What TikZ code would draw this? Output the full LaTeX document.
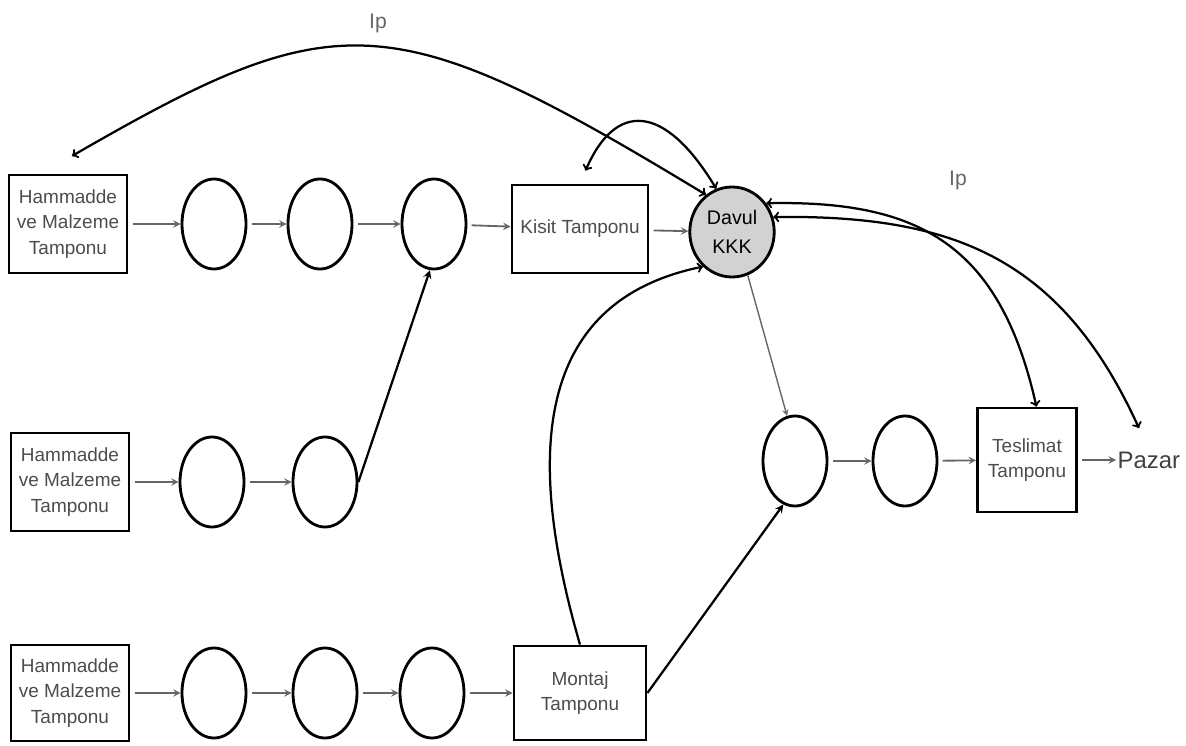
\documentclass[tikz,border=0pt]{standalone}
\usepackage{fontspec}
\setmainfont{Liberation Sans}
\usetikzlibrary{shapes.geometric}

\begin{document}
\begin{tikzpicture}[x=0.025cm, y=0.025cm, >=stealth,
    buffer/.style={draw, line width=2pt, align=center, inner sep=0pt, text=black!70,
        font=\fontsize{13.5}{18}\selectfont},
    station/.style={draw, ellipse, line width=2pt, minimum width=1.6cm, minimum height=2.25cm},
    flow/.style={->, black!60, line width=1.3pt, shorten <=3pt},
    rope/.style={<->, >=to, line width=1.6pt},
    label/.style={text=black!60, font=\fontsize{15}{18}\selectfont}]
    \useasboundingbox (0,0) rectangle (1186,745);

    % first line: raw material to the drum
    \node[buffer, minimum width=2.95cm, minimum height=2.45cm] (hm1) at (68,521) {Hammadde\\ve Malzeme\\Tamponu};
    \node[station] (a1) at (214,521) {};
    \node[station] (a2) at (320,521) {};
    \node[station] (a3) at (434,521) {};
    \node[buffer, minimum width=3.4cm, minimum height=2.2cm] (kisit) at (580,516) {Kisit Tamponu};
    \node[station, fill=gray!35, minimum width=1.75cm, align=center,
        font=\fontsize{14}{21}\selectfont] (davul) at (732,513) {Davul\\KKK};

    % second line feeds the third station
    \node[buffer, minimum width=2.95cm, minimum height=2.45cm] (hm2) at (70,263) {Hammadde\\ve Malzeme\\Tamponu};
    \node[station] (b1) at (212,263) {};
    \node[station] (b2) at (325,263) {};

    % third line ends in the assembly buffer
    \node[buffer, minimum width=2.95cm, minimum height=2.4cm] (hm3) at (70,52) {Hammadde\\ve Malzeme\\Tamponu};
    \node[station] (c1) at (214,52) {};
    \node[station] (c2) at (325,52) {};
    \node[station] (c3) at (432,52) {};
    \node[buffer, minimum width=3.3cm, minimum height=2.35cm] (montaj) at (580,52) {Montaj\\Tamponu};

    % shipping side
    \node[station] (d1) at (795,284) {};
    \node[station] (d2) at (905,284) {};
    \node[buffer, minimum width=2.48cm, minimum height=2.6cm] (teslimat) at (1027,285) {Teslimat\\Tamponu};
    \node[anchor=west, inner sep=1pt, text=black!75, font=\fontsize{17}{20}\selectfont] (pazar) at (1116,285) {Pazar};

    \node[label] (ip1) at (378,722) {Ip};
    \node[label] (ip2) at (958,565) {Ip};

    \draw[flow] (hm1) -- (a1);
    \draw[flow] (a1) -- (a2);
    \draw[flow] (a2) -- (a3);
    \draw[flow] (a3) -- (kisit);
    \draw[flow] (kisit) -- (davul);

    \draw[flow] (hm2) -- (b1);
    \draw[flow] (b1) -- (b2);
    \draw[->, line width=1.6pt] (b2.east) -- (a3.265);

    \draw[flow] (hm3) -- (c1);
    \draw[flow] (c1) -- (c2);
    \draw[flow] (c2) -- (c3);
    \draw[flow] (c3) -- (montaj);
    \draw[->, line width=1.6pt] (montaj.east) -- (d1.255);

    \draw[->, black!60, line width=1pt] (davul.290) -- (d1.100);
    \draw[flow] (d1) -- (d2);
    \draw[flow] (d2) -- (teslimat);
    \draw[flow] (teslimat) -- (pazar);

    % ropes
    \coordinate (ipL) at (72,589);
    \draw[rope] (ipL) .. controls (337,742) and (390,742) .. (davul.125);
    \draw[rope, shorten <=0.35cm] (kisit.north) .. controls (615,643) and (664,643) .. (davul.110);
    \draw[rope] (davul.40) .. controls (920,545) and (1000,500) .. (teslimat.80);
    \draw[rope, shorten >=0.6cm] (davul.20) .. controls (950,530) and (1060,490) .. (pazar.north);
    \draw[->, >=to, line width=1.6pt] (montaj.north) .. controls (522,300) and (540,445) .. (davul.230);
\end{tikzpicture}
\end{document}
